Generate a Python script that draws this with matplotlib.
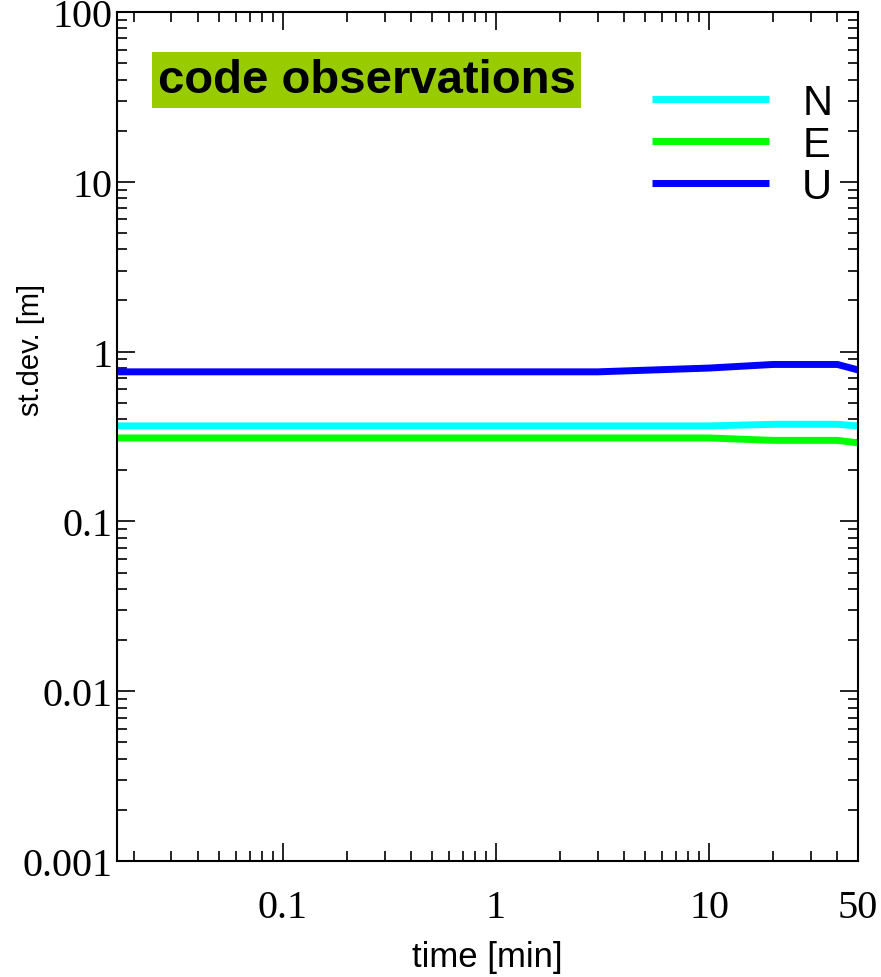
import matplotlib.pyplot as plt
from matplotlib.ticker import LogLocator, NullFormatter, FixedLocator, FixedFormatter

# time in minutes and standard deviations in metres
time_min = [1 / 60, 3, 10, 20, 40, 50]
sd_n = [0.365, 0.365, 0.365, 0.373, 0.373, 0.365]
sd_e = [0.31, 0.31, 0.31, 0.30, 0.30, 0.29]
sd_u = [0.76, 0.76, 0.80, 0.84, 0.84, 0.78]

x_ticks = [0.1, 1, 10, 50]
x_labels = ['0.1', '1', '10', '50']
y_ticks = [0.001, 0.01, 0.1, 1, 10, 100]
y_labels = ['0.001', '0.01', '0.1', '1', '10', '100']

fig = plt.figure(figsize=(8.81, 9.78), dpi=100)
ax = fig.add_axes([117 / 881, 1 - 862 / 978, (858 - 117) / 881, (862 - 13) / 978])

ax.plot(time_min, sd_n, color='#00ffff', lw=5, label='N', solid_capstyle='butt')
ax.plot(time_min, sd_e, color='#00ff00', lw=5, label='E', solid_capstyle='butt')
ax.plot(time_min, sd_u, color='#0000ff', lw=5, label='U', solid_capstyle='butt')

ax.set_xscale('log')
ax.set_yscale('log')
ax.set_xlim(1 / 60, 50)
ax.set_ylim(0.001, 100)

ax.xaxis.set_major_locator(FixedLocator(x_ticks))
ax.xaxis.set_major_formatter(FixedFormatter(x_labels))
ax.xaxis.set_minor_locator(LogLocator(base=10, subs=range(2, 10)))
ax.xaxis.set_minor_formatter(NullFormatter())
ax.yaxis.set_major_locator(FixedLocator(y_ticks))
ax.yaxis.set_major_formatter(FixedFormatter(y_labels))
ax.yaxis.set_minor_locator(LogLocator(base=10, subs=range(2, 10)))
ax.yaxis.set_minor_formatter(NullFormatter())

ax.tick_params(which='both', direction='in', top=True, right=True, width=1.2)
ax.tick_params(which='major', length=13)
ax.tick_params(which='minor', length=7)
ax.tick_params(axis='x', which='major', pad=20)
ax.tick_params(axis='y', which='major', pad=3)
for lab in ax.get_xticklabels() + ax.get_yticklabels():
    lab.set_family('Liberation Serif')
    lab.set_fontsize(29)
for sp in ax.spines.values():
    sp.set_linewidth(1.5)

ax.set_xlabel('time [min]', fontsize=25, family='Liberation Sans', labelpad=10)
ax.set_ylabel('st.dev. [m]', fontsize=21, family='Liberation Sans')
ax.yaxis.set_label_coords(-0.097, 0.603)

ax.text(0.055, 0.92, 'code observations', transform=ax.transAxes, fontsize=34,
        fontweight='bold', family='Liberation Sans', va='center', ha='left',
        bbox=dict(facecolor='#99cc00', edgecolor='none', pad=4))

leg = ax.legend(loc='upper right', bbox_to_anchor=(1.016, 0.961), frameon=False,
                prop={'family': 'Liberation Sans', 'size': 30},
                handlelength=2.8, labelspacing=0.05, handletextpad=0.8)

fig.savefig('out.png', dpi=100)
